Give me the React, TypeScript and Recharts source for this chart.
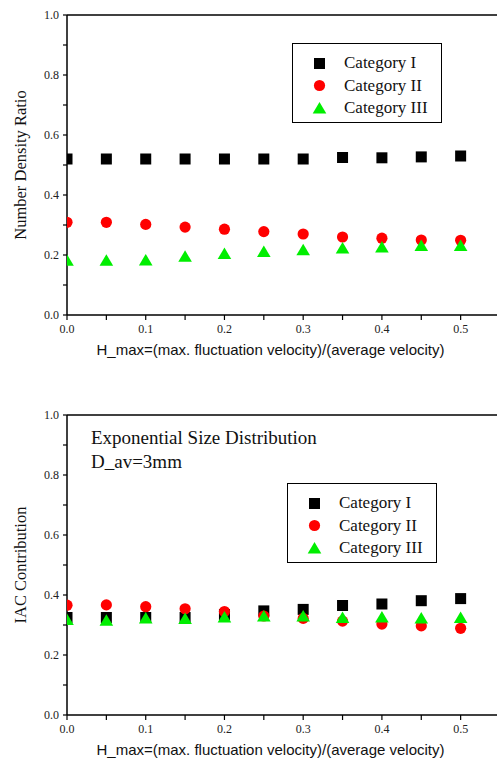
import React from "react";
import { ScatterChart, Scatter, XAxis, YAxis, ReferenceLine } from "recharts";

const xValues = [0, 0.05, 0.1, 0.15, 0.2, 0.25, 0.3, 0.35, 0.4, 0.45, 0.5];

// Top chart: Number Density Ratio
const ndCat1 = [0.52, 0.52, 0.52, 0.52, 0.52, 0.52, 0.52, 0.525, 0.524, 0.527, 0.53];
const ndCat2 = [0.309, 0.309, 0.302, 0.293, 0.286, 0.278, 0.27, 0.26, 0.256, 0.25, 0.249];
const ndCat3 = [0.181, 0.181, 0.182, 0.194, 0.203, 0.21, 0.216, 0.222, 0.225, 0.23, 0.23];

// Bottom chart: IAC Contribution
const iacCat1 = [0.325, 0.325, 0.325, 0.325, 0.335, 0.347, 0.352, 0.365, 0.37, 0.381, 0.388];
const iacCat2 = [0.366, 0.367, 0.361, 0.354, 0.345, 0.33, 0.322, 0.313, 0.303, 0.297, 0.289];
const iacCat3 = [0.317, 0.314, 0.322, 0.32, 0.325, 0.328, 0.328, 0.323, 0.325, 0.322, 0.323];

const categories = ["Category I", "Category II", "Category III"];
const xTicks = [0, 0.05, 0.1, 0.15, 0.2, 0.25, 0.3, 0.35, 0.4, 0.45, 0.5, 0.55];
const yTicks = [0, 0.1, 0.2, 0.3, 0.4, 0.5, 0.6, 0.7, 0.8, 0.9, 1.0];
const xLabel = "H_max=(max. fluctuation velocity)/(average velocity)";

const GREEN = "#00ee00";
const RED = "#ff0000";
const SERIF = "'Liberation Serif', 'Times New Roman', serif";
const SANS = "'Liberation Sans', Arial, sans-serif";

const toPoints = (ys: number[]) => xValues.map((x, i) => ({ x, y: ys[i] }));

const SquareShape = (p: any) => (
  <rect x={p.cx - 5.5} y={p.cy - 5.5} width={11} height={11} fill="#000" />
);
const CircleShape = (p: any) => <circle cx={p.cx} cy={p.cy} r={5.6} fill={RED} />;
const TriangleShape = (p: any) => (
  <polygon
    points={`${p.cx},${p.cy - 6.5} ${p.cx + 6.8},${p.cy + 5} ${p.cx - 6.8},${p.cy + 5}`}
    fill={GREEN}
  />
);

const isMajorY = (v: number) => Math.round(v * 10) % 2 === 0;
const isMajorX = (v: number) => Math.round(v * 100) % 10 === 0;

const YTick = (props: any) => {
  const { x, y, payload } = props;
  const v = payload.value as number;
  if (!isMajorY(v)) return <g />;
  return (
    <text x={x} y={y} dy={4} textAnchor="end" style={{ fontFamily: SERIF }} fontSize={12} fill="#222">
      {v.toFixed(1)}
    </text>
  );
};

const XTick = (props: any) => {
  const { x, y, payload } = props;
  const v = payload.value as number;
  if (!isMajorX(v) || v > 0.52) return <g />;
  return (
    <text x={x} y={y} dy={10} textAnchor="middle" style={{ fontFamily: SERIF }} fontSize={12} fill="#222">
      {v.toFixed(1)}
    </text>
  );
};

const LegendBox = ({ left, top }: { left: number; top: number }) => {
  const shapes = [
    <rect key="s" x={2} y={2} width={11} height={11} fill="#000" />,
    <circle key="c" cx={7.5} cy={7.5} r={5.6} fill={RED} />,
    <polygon key="t" points="7.5,1 14.3,12.5 0.7,12.5" fill={GREEN} />,
  ];
  return (
    <div
      style={{
        position: "absolute",
        left,
        top,
        width: 150,
        height: 80,
        border: "1.5px solid #000",
        background: "#fff",
        boxSizing: "border-box",
        fontFamily: SERIF,
        fontSize: 17,
      }}
    >
      {categories.map((c, i) => (
        <div
          key={c}
          style={{ position: "absolute", left: 19, top: 9 + i * 22.5, height: 20, display: "flex", alignItems: "center" }}
        >
          <svg width={15} height={15} style={{ display: "block" }}>
            {shapes[i]}
          </svg>
          <span style={{ marginLeft: 17, whiteSpace: "nowrap", color: "#111" }}>{c}</span>
        </div>
      ))}
    </div>
  );
};

const Panel = ({
  top,
  yLabel,
  s1,
  s2,
  s3,
}: {
  top: number;
  yLabel: string;
  s1: number[];
  s2: number[];
  s3: number[];
}) => (
  <div style={{ position: "absolute", left: 0, top, width: 510, height: 361 }}>
    <ScatterChart width={510} height={361} margin={{ top: 15, right: 10, left: 0, bottom: 0 }}>
      <XAxis
        type="number"
        dataKey="x"
        domain={[0, 0.55]}
        ticks={xTicks}
        interval={0}
        height={46}
        stroke="#000"
        axisLine={{ stroke: "#000", strokeWidth: 1.5 }}
        tickLine={{ stroke: "#000", strokeWidth: 1.2 }}
        tickSize={5}
        tickMargin={3}
        tick={<XTick />}
        allowDataOverflow
        label={{
          content: (lp: any) => {
            const vb = lp.viewBox;
            return (
              <text
                x={vb.x + vb.width / 2 - 13}
                y={vb.y + 40}
                textAnchor="middle"
                style={{ fontFamily: SANS }}
                fontSize={15}
                fill="#111"
              >
                {xLabel}
              </text>
            );
          },
        }}
      />
      <YAxis
        type="number"
        dataKey="y"
        domain={[0, 1]}
        ticks={yTicks}
        interval={0}
        width={67}
        axisLine={{ stroke: "#000", strokeWidth: 1.5 }}
        tickLine={{ stroke: "#000", strokeWidth: 1.2 }}
        tickSize={4}
        tickMargin={4}
        tick={<YTick />}
        label={{
          content: (lp: any) => {
            const vb = lp.viewBox;
            const cy = vb.y + vb.height / 2;
            return (
              <text
                x={20}
                y={cy}
                transform={`rotate(-90 20 ${cy})`}
                textAnchor="middle"
                dominantBaseline="central"
                style={{ fontFamily: SERIF }}
                fontSize={16.5}
                fill="#111"
              >
                {yLabel}
              </text>
            );
          },
        }}
      />
      <ReferenceLine y={1} stroke="#000" strokeWidth={1.5} />
      <Scatter name={categories[0]} data={toPoints(s1)} shape={SquareShape} isAnimationActive={false} />
      <Scatter name={categories[1]} data={toPoints(s2)} shape={CircleShape} isAnimationActive={false} />
      <Scatter name={categories[2]} data={toPoints(s3)} shape={TriangleShape} isAnimationActive={false} />
    </ScatterChart>
  </div>
);

export default function App() {
  return (
    <div style={{ position: "absolute", left: 0, top: 0, width: 497, height: 767, overflow: "hidden", background: "#fff" }}>
      <Panel top={0} yLabel="Number Density Ratio" s1={ndCat1} s2={ndCat2} s3={ndCat3} />
      <LegendBox left={292} top={43} />
      <Panel top={400} yLabel="IAC Contribution" s1={iacCat1} s2={iacCat2} s3={iacCat3} />
      <LegendBox left={287} top={483} />
      <div
        style={{
          position: "absolute",
          left: 91,
          top: 426,
          fontFamily: SERIF,
          fontSize: 19,
          lineHeight: "24px",
          color: "#111",
          whiteSpace: "nowrap",
        }}
      >
        <div>Exponential Size Distribution</div>
        <div>D_av=3mm</div>
      </div>
    </div>
  );
}
